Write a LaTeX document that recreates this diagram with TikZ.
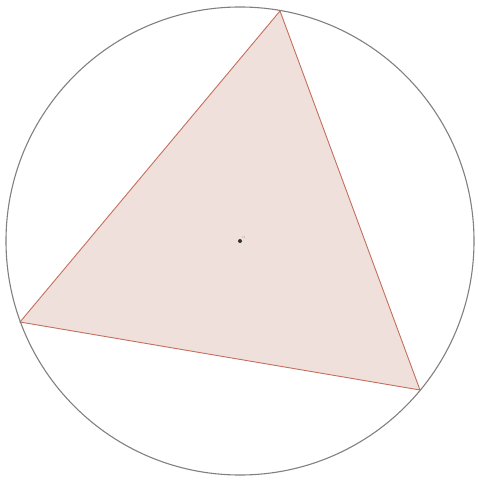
\documentclass[tikz,border=0pt]{standalone}
\definecolor{edgec}{RGB}{196,110,92}
\definecolor{fillc}{RGB}{240,224,219}
\begin{document}
\begin{tikzpicture}[x=1bp,y=-1bp,
  circ/.style={draw=black!50, line width=1.1bp},
  tri/.style={draw=edgec, line width=0.9bp, fill=fillc},
  ctr/.style={circle, fill=black!80, inner sep=0pt, minimum size=4bp}]
\useasboundingbox (0,0) rectangle (478,481);
\coordinate (A) at (280,11);
\coordinate (B) at (20,322);
\coordinate (C) at (420,390);
\draw[tri] (A) -- (B) -- (C) -- cycle;
\node[ctr] (O) at (240,241) {};
\draw[circ] (O) circle[radius=234];
\node[font=\fontsize{3}{3}\selectfont, text=black!50, anchor=south west, inner sep=0.5bp] (lab) at (O.north east) {O};
\end{tikzpicture}
\end{document}
